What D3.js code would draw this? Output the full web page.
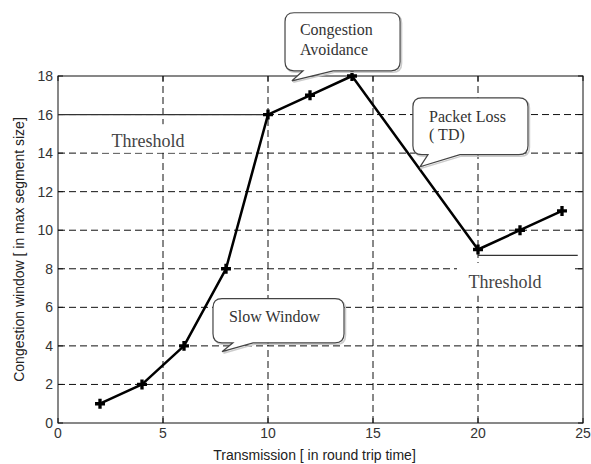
<!DOCTYPE html>
<html>
<head>
    <meta charset="utf-8">
    <title>Congestion window</title>
    <script src="https://d3js.org/d3.v7.min.js"></script>
    <style>
        body, html {
            margin: 0;
            padding: 0;
            background: #fff;
        }
        svg {
            display: block;
        }
        .tick-label {
            font-family: "Liberation Sans", Arial, sans-serif;
            font-size: 14px;
            fill: #333;
        }
        .axis-title {
            font-family: "Liberation Sans", Arial, sans-serif;
            font-size: 14px;
            fill: #222;
        }
        .note {
            font-family: "Liberation Serif", "Times New Roman", serif;
            font-size: 16px;
            fill: #333;
        }
    </style>
</head>
<body>
    <svg></svg>

    <script>
        // data
        const transmission = [2, 4, 6, 8, 10, 12, 14, 20, 22, 24];
        const cwnd = [1, 2, 4, 8, 16, 17, 18, 9, 10, 11];
        const xTicks = [0, 5, 10, 15, 20, 25];
        const yTicks = [0, 2, 4, 6, 8, 10, 12, 14, 16, 18];

        // threshold lines (data units)
        const thresholds = [
            { x0: 0, x1: 10, y: 16 },
            { x0: 20, x1: 24.75, y: 8.7 }
        ];

        // threshold labels, with a white patch behind (data units)
        const thresholdLabels = [
            { text: "Threshold", x: 2.55, y: 14.3, box: [1.9, 7.6, 15.5, 14.02] },
            { text: "Threshold", x: 19.55, y: 7.0, box: [19.0, 24.6, 8.3, 6.6] }
        ];

        // speech bubbles (data units)
        const callouts = [
            { lines: ["Congestion", "Avoidance"], tx: 11.52, ty: [20.14, 19.1],
              box: [10.81, 16.29, 21.28, 18.27], tip: [11.14, 17.75], base: [11.67, 13.1] },
            { lines: ["Packet Loss", "( TD)"], tx: 17.67, ty: [15.63, 14.69],
              box: [16.9, 22.38, 16.87, 13.92], tip: [17.24, 13.29], base: [17.62, 19.14] },
            { lines: ["Slow Window"], tx: 8.14, ty: [5.26],
              box: [7.38, 13.62, 6.45, 4.16], tip: [7.81, 3.7], base: [8.33, 9.29] }
        ];

        const width = 591, height = 464;
        const margin = { top: 76, right: 8, bottom: 41, left: 58 };

        const svg = d3.select("svg")
            .attr("width", width)
            .attr("height", height);

        const x = d3.scaleLinear().domain([0, 25]).range([margin.left, width - margin.right]);
        const y = d3.scaleLinear().domain([0, 18]).range([height - margin.bottom, margin.top]);

        const g = svg.append("g");

        // dashed grid
        g.append("g").selectAll("line")
            .data(xTicks.slice(1, -1))
            .enter().append("line")
            .attr("x1", d => x(d)).attr("x2", d => x(d))
            .attr("y1", y(0)).attr("y2", y(18))
            .attr("stroke", "#111").attr("stroke-dasharray", "7,4");

        g.append("g").selectAll("line")
            .data(yTicks.slice(1, -1))
            .enter().append("line")
            .attr("x1", x(0)).attr("x2", x(25))
            .attr("y1", d => y(d)).attr("y2", d => y(d))
            .attr("stroke", "#111").attr("stroke-dasharray", "7,4");

        // frame
        g.append("rect")
            .attr("x", x(0)).attr("y", y(18))
            .attr("width", x(25) - x(0)).attr("height", y(0) - y(18))
            .attr("fill", "none").attr("stroke", "#111");

        // inward ticks on all sides
        const tk = 5;
        xTicks.forEach(v => {
            g.append("line").attr("x1", x(v)).attr("x2", x(v)).attr("y1", y(0)).attr("y2", y(0) - tk).attr("stroke", "#111");
            g.append("line").attr("x1", x(v)).attr("x2", x(v)).attr("y1", y(18)).attr("y2", y(18) + tk).attr("stroke", "#111");
        });
        yTicks.forEach(v => {
            g.append("line").attr("x1", x(0)).attr("x2", x(0) + tk).attr("y1", y(v)).attr("y2", y(v)).attr("stroke", "#111");
            g.append("line").attr("x1", x(25)).attr("x2", x(25) - tk).attr("y1", y(v)).attr("y2", y(v)).attr("stroke", "#111");
        });

        // tick labels
        g.append("g").selectAll("text")
            .data(xTicks)
            .enter().append("text")
            .attr("class", "tick-label")
            .attr("x", d => x(d))
            .attr("y", y(0) + 15)
            .attr("text-anchor", "middle")
            .text(d => d);

        g.append("g").selectAll("text")
            .data(yTicks)
            .enter().append("text")
            .attr("class", "tick-label")
            .attr("x", x(0) - 5)
            .attr("y", d => y(d) + 5)
            .attr("text-anchor", "end")
            .text(d => d);

        // axis titles
        g.append("text")
            .attr("class", "axis-title")
            .attr("x", (x(0) + x(25)) / 2 - 6)
            .attr("y", 460)
            .attr("text-anchor", "middle")
            .text("Transmission [ in round trip time]");

        g.append("text")
            .attr("class", "axis-title")
            .attr("transform", `translate(24,${(y(0) + y(18)) / 2}) rotate(-90)`)
            .attr("text-anchor", "middle")
            .text("Congestion window [ in max segment size]");

        // white patches behind threshold labels
        g.append("g").selectAll("rect")
            .data(thresholdLabels)
            .enter().append("rect")
            .attr("x", d => x(d.box[0]))
            .attr("y", d => y(d.box[2]))
            .attr("width", d => x(d.box[1]) - x(d.box[0]))
            .attr("height", d => y(d.box[3]) - y(d.box[2]))
            .attr("fill", "#fff");

        g.append("g").selectAll("text")
            .data(thresholdLabels)
            .enter().append("text")
            .attr("class", "note")
            .attr("x", d => x(d.x))
            .attr("y", d => y(d.y))
            .style("font-size", "18px")
            .style("fill", "#444")
            .text(d => d.text);

        // threshold lines
        g.append("g").selectAll("line")
            .data(thresholds)
            .enter().append("line")
            .attr("x1", d => x(d.x0)).attr("x2", d => x(d.x1))
            .attr("y1", d => y(d.y)).attr("y2", d => y(d.y))
            .attr("stroke", "#333").attr("stroke-width", 1.2);

        // data line
        const pts = transmission.map((t, i) => [t, cwnd[i]]);
        const line = d3.line().x(d => x(d[0])).y(d => y(d[1]));

        g.append("path")
            .attr("d", line(pts))
            .attr("fill", "none").attr("stroke", "#000").attr("stroke-width", 2.5)
            .attr("stroke-linejoin", "round");

        g.append("g").selectAll("path")
            .data(pts)
            .enter().append("path")
            .attr("d", d3.symbol().type(d3.symbolCross).size(55))
            .attr("transform", d => `translate(${x(d[0])},${y(d[1])})`)
            .attr("fill", "#000");

        // speech bubbles
        function bubble(c) {
            const x0 = x(c.box[0]), x1 = x(c.box[1]);
            const y0 = y(c.box[2]), y1 = y(c.box[3]);
            const r = 9;
            const bl = x(c.base[0]), br = x(c.base[1]);
            const tx = x(c.tip[0]), ty = y(c.tip[1]);
            return `M${x0 + r},${y0} H${x1 - r} Q${x1},${y0} ${x1},${y0 + r} V${y1 - r} ` +
                `Q${x1},${y1} ${x1 - r},${y1} H${br} L${tx},${ty} L${bl},${y1} ` +
                `H${x0 + r} Q${x0},${y1} ${x0},${y1 - r} V${y0 + r} Q${x0},${y0} ${x0 + r},${y0} Z`;
        }

        const cg = g.append("g").selectAll("g")
            .data(callouts)
            .enter().append("g");

        cg.append("path")
            .attr("d", bubble)
            .attr("transform", "translate(1.5,1.5)")
            .attr("fill", "none").attr("stroke", "#ccc").attr("stroke-width", 1.5);

        cg.append("path")
            .attr("d", bubble)
            .attr("fill", "#fff").attr("stroke", "#444").attr("stroke-width", 1.2);

        cg.each(function(c) {
            c.lines.forEach((t, i) => {
                d3.select(this).append("text")
                    .attr("class", "note")
                    .attr("x", x(c.tx))
                    .attr("y", y(c.ty[i]))
                    .text(t);
            });
        });
    </script>
</body>
</html>
